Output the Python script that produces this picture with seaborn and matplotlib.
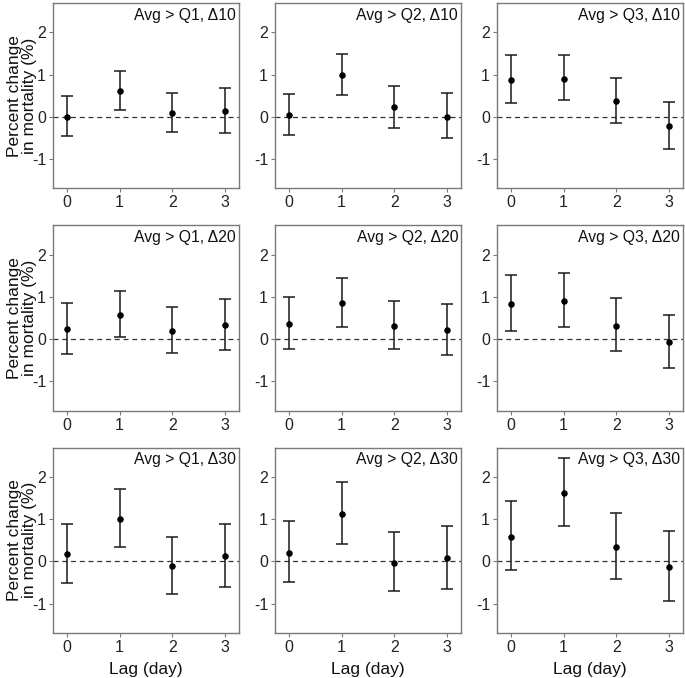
"""Percent change in mortality by lag, for 3 thresholds x 3 deltas."""

import numpy as np
import pandas as pd
import seaborn as sns
import matplotlib.pyplot as plt

LAGS = [0, 1, 2, 3]
QUANTS = ["Q1", "Q2", "Q3"]
DELTAS = [10, 20, 30]

# point estimate, lower and upper 95% CI; one list of 4 lags per quantile
EST_D10 = [[0.00, 0.60, 0.09, 0.13], [0.03, 0.99, 0.22, 0.00], [0.87, 0.90, 0.37, -0.23]]
LO_D10 = [[-0.46, 0.16, -0.36, -0.39], [-0.44, 0.52, -0.26, -0.50], [0.32, 0.39, -0.14, -0.76]]
HI_D10 = [[0.50, 1.09, 0.57, 0.67], [0.54, 1.50, 0.73, 0.56], [1.46, 1.47, 0.93, 0.35]]

EST_D20 = [[0.23, 0.57, 0.20, 0.33], [0.36, 0.86, 0.31, 0.21], [0.83, 0.91, 0.32, -0.07]]
LO_D20 = [[-0.35, 0.04, -0.33, -0.26], [-0.23, 0.29, -0.23, -0.38], [0.19, 0.28, -0.29, -0.69]]
HI_D20 = [[0.85, 1.13, 0.75, 0.95], [0.99, 1.46, 0.91, 0.83], [1.51, 1.56, 0.98, 0.58]]

EST_D30 = [[0.17, 1.01, -0.12, 0.13], [0.20, 1.13, -0.03, 0.08], [0.59, 1.63, 0.35, -0.14]]
LO_D30 = [[-0.52, 0.35, -0.78, -0.60], [-0.50, 0.41, -0.71, -0.65], [-0.20, 0.84, -0.43, -0.95]]
HI_D30 = [[0.89, 1.72, 0.58, 0.88], [0.96, 1.88, 0.69, 0.83], [1.43, 2.45, 1.14, 0.72]]

EST = [EST_D10, EST_D20, EST_D30]
LO = [LO_D10, LO_D20, LO_D30]
HI = [HI_D10, HI_D20, HI_D30]

rows = []
for i, d in enumerate(DELTAS):
    for j, q in enumerate(QUANTS):
        for k, lag in enumerate(LAGS):
            rows.append({"delta": d, "quant": q, "lag": lag,
                         "est": EST[i][j][k], "lo": LO[i][j][k], "hi": HI[i][j][k]})
df = pd.DataFrame(rows)

sns.set_theme(style="white")
plt.rcParams["font.family"] = ["Liberation Sans", "DejaVu Sans"]
plt.rcParams["axes.unicode_minus"] = False

BORDER = "#7a7a7a"
fig, axes = plt.subplots(3, 3, figsize=(6.85, 6.78), dpi=100)
fig.subplots_adjust(left=0.0774, right=0.997, top=0.9956, bottom=0.0664,
                    wspace=0.194, hspace=0.2)

for i, d in enumerate(DELTAS):
    for j, q in enumerate(QUANTS):
        ax = axes[i, j]
        sub = df[(df["delta"] == d) & (df["quant"] == q)]
        ax.axhline(0, color="#333333", lw=0.9, ls=(0, (4, 3)), zorder=1)
        ax.errorbar(sub["lag"], sub["est"],
                    yerr=[sub["est"] - sub["lo"], sub["hi"] - sub["est"]],
                    fmt="none", ecolor="#1a1a1a", elinewidth=1.1,
                    capsize=4.0, capthick=1.1, zorder=2)
        sns.scatterplot(data=sub, x="lag", y="est", color="black", s=22,
                        edgecolor="black", linewidth=0, ax=ax, zorder=3)
        ax.set_xlim(-0.26, 3.26)
        ax.set_ylim(-1.7, 2.7)
        ax.set_xticks(LAGS)
        ax.set_yticks([-1, 0, 1, 2])
        ax.tick_params(axis="both", length=3, width=0.8, color=BORDER,
                       labelsize=11.5, labelcolor="#222222", pad=2,
                       bottom=True, left=True)
        for sp in ax.spines.values():
            sp.set_color(BORDER)
            sp.set_linewidth(1.0)
        ax.text(0.985, 0.975, f"Avg > {q}, \u0394{d}", transform=ax.transAxes,
                ha="right", va="top", fontsize=11.3, color="#111111")
        ax.set_xlabel("Lag (day)" if i == 2 else "", fontsize=12.5,
                      color="#111111", labelpad=5)
        if j == 0:
            ax.set_ylabel("Percent change\nin mortality (%)", fontsize=12.5,
                          color="#111111", linespacing=1.05)
            ax.yaxis.set_label_coords(-0.085, 0.5)
        else:
            ax.set_ylabel("")

fig.savefig("out.png", dpi=100)
